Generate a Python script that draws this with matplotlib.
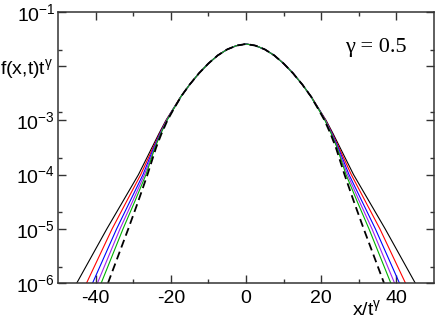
"""Scaled distribution f(x,t) t^gamma vs x/t^gamma, log y, gamma = 0.5."""
import numpy as np
import matplotlib
matplotlib.use("Agg")
import matplotlib.pyplot as plt
from matplotlib.ticker import FixedLocator, FixedFormatter, NullFormatter

plt.rcParams["font.family"] = ["Liberation Sans", "DejaVu Sans"]
plt.rcParams["mathtext.fontset"] = "custom"
plt.rcParams["mathtext.rm"] = "Liberation Sans"
plt.rcParams["mathtext.it"] = "Liberation Sans"

# common central part (x >= 0, log10 of f t^gamma)
x_core = [0.0, 2.5, 5.0, 7.5, 10.0, 12.5, 15.0, 17.5]
logf_core = [-1.59, -1.62, -1.69, -1.80, -1.95, -2.13, -2.34, -2.58]

# tails: x where each curve reaches the given log10 f levels
tail_levels = [-2.6, -2.8, -3.0, -3.25, -3.5, -4.0, -4.5, -5.0, -5.5, -6.0]
tail_black = [17.7, 19.5, 21.3, 23.2, 25.0, 28.6, 32.8, 37.0, 41.0, 45.0]
tail_red = [17.7, 19.4, 21.2, 23.0, 24.7, 28.0, 31.8, 35.6, 39.0, 42.4]
tail_blue = [17.6, 19.4, 21.1, 22.9, 24.5, 27.4, 30.9, 34.4, 37.6, 40.8]
tail_purple = [17.6, 19.4, 21.1, 22.8, 24.3, 27.0, 30.2, 33.5, 36.5, 39.5]
tail_green = [17.6, 19.35, 21.0, 22.7, 24.2, 26.6, 29.6, 32.7, 35.6, 38.5]
tail_dashed = [17.6, 19.3, 20.9, 22.5, 23.9, 26.2, 28.7, 31.3, 34.0, 36.7]

series = [
    (tail_black, "black", "-", 0.8),
    (tail_red, "#ff0000", "-", 0.8),
    (tail_blue, "#0000ff", "-", 0.8),
    (tail_purple, "#a020f0", "-", 0.8),
    (tail_green, "#00b000", "-", 0.8),
    (tail_dashed, "black", (0, (4.5, 2.5)), 1.3),
]


def full_curve(tail):
    xs = np.array(x_core + tail)
    ls = np.array(logf_core + tail_levels)
    xs = np.concatenate([-xs[::-1], xs[1:]])
    ls = np.concatenate([ls[::-1], ls[1:]])
    return xs, 10.0 ** ls


fig = plt.figure(figsize=(4.36, 3.18), dpi=100)
ax = fig.add_axes([58 / 436, 35 / 318, 376 / 436, 271 / 318])

for tail, col, ls, lw in series:
    xs, ys = full_curve(tail)
    ax.plot(xs, ys, color=col, ls=ls, lw=lw)

ax.set_yscale("log")
ax.set_xlim(-50, 50)
ax.set_ylim(1e-6, 1e-1)

ax.set_xticks([-40, -20, 0, 20, 40])
ax.set_xticklabels(["-40", "-20", "0", "20", "40"])
ax.set_xticks([-30, -10, 10, 30], minor=True)

ydec = [1e-6, 1e-5, 1e-4, 1e-3, 1e-2, 1e-1]
ylabs = [r"$\mathregular{10^{-6}}$", r"$\mathregular{10^{-5}}$", r"$\mathregular{10^{-4}}$",
         r"$\mathregular{10^{-3}}$", "", r"$\mathregular{10^{-1}}$"]
ax.yaxis.set_major_locator(FixedLocator(ydec))
ax.yaxis.set_major_formatter(FixedFormatter(ylabs))
ax.yaxis.set_minor_locator(FixedLocator([2e-6, 2e-5, 2e-4, 1.4e-3, 2e-2]))
ax.yaxis.set_minor_formatter(NullFormatter())

ax.tick_params(which="both", direction="in", top=True, right=True, colors="#333333",
               labelcolor="black", labelsize=14)
ax.tick_params(which="major", length=6, width=1.0)
ax.tick_params(which="minor", length=3, width=1.0)
ax.tick_params(axis="x", which="major", pad=5)
ax.tick_params(axis="y", which="major", pad=2)
for sp in ax.spines.values():
    sp.set_linewidth(1.1)
    sp.set_color("#333333")

fig.text(0.0, 1 - 74 / 318, r"f(x,t)t$^{\mathregular{\gamma}}$", fontsize=14, va="baseline")
fig.text(352 / 436, 1 - 315 / 318, r"x/t$^{\mathregular{\gamma}}$", fontsize=14, va="baseline")
ax.text(345 / 436, 1 - 52 / 318, "\u03b3 = 0.5", transform=fig.transFigure,
        family=["Liberation Serif", "DejaVu Serif"], fontsize=16, va="baseline")

fig.savefig("out.png", dpi=100)
plt.close(fig)
